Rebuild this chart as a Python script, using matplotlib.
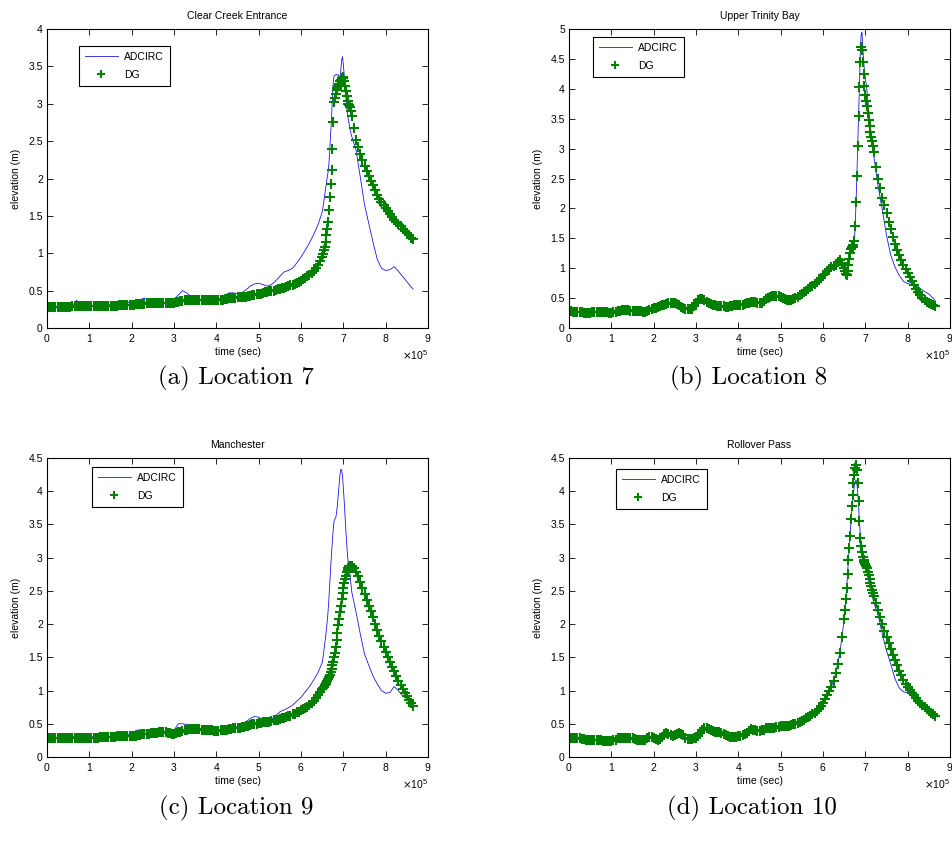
import matplotlib
matplotlib.use("Agg")
import matplotlib.pyplot as plt
from matplotlib.ticker import FuncFormatter, MultipleLocator
import numpy as np

plt.rcParams['font.family'] = ['Liberation Sans', 'DejaVu Sans']
plt.rcParams['font.size'] = 7.5

# sample times, in units of 1e5 s
t_early = [0.0, 0.1, 0.2, 0.3, 0.4, 0.5, 0.6, 0.7, 0.8, 0.9,
           1.0, 1.1, 1.2, 1.3, 1.4, 1.5, 1.6, 1.7, 1.8, 1.9,
           2.0, 2.1, 2.2, 2.3, 2.4, 2.5, 2.6, 2.7, 2.8, 2.9,
           3.0, 3.1, 3.2, 3.3, 3.4, 3.5, 3.6, 3.7, 3.8, 3.9,
           4.0, 4.1, 4.2, 4.3, 4.4, 4.5, 4.6, 4.7, 4.8, 4.9,
           5.0, 5.1, 5.2, 5.3, 5.4, 5.5, 5.6, 5.7, 5.8, 5.9,
           6.0, 6.1, 6.2, 6.3, 6.4]
t_peak = [6.50, 6.52, 6.54, 6.56, 6.58, 6.60, 6.62, 6.64, 6.66, 6.68,
          6.70, 6.72, 6.74, 6.76, 6.78, 6.80, 6.82, 6.84, 6.86, 6.88,
          6.90, 6.92, 6.94, 6.96, 6.98, 7.00, 7.02, 7.04, 7.06, 7.08,
          7.10, 7.12, 7.14, 7.16, 7.18, 7.20]
t_late = [7.3, 7.4, 7.5, 7.6, 7.7, 7.8, 7.9, 8.0, 8.1, 8.2, 8.3, 8.4, 8.5, 8.6, 8.65]
t_adcirc = t_early + t_peak + t_late

# DG output is denser
t_dg_early = [0.00, 0.05, 0.10, 0.15, 0.20, 0.25, 0.30, 0.35, 0.40, 0.45,
              0.50, 0.55, 0.60, 0.65, 0.70, 0.75, 0.80, 0.85, 0.90, 0.95,
              1.00, 1.05, 1.10, 1.15, 1.20, 1.25, 1.30, 1.35, 1.40, 1.45,
              1.50, 1.55, 1.60, 1.65, 1.70, 1.75, 1.80, 1.85, 1.90, 1.95,
              2.00, 2.05, 2.10, 2.15, 2.20, 2.25, 2.30, 2.35, 2.40, 2.45,
              2.50, 2.55, 2.60, 2.65, 2.70, 2.75, 2.80, 2.85, 2.90, 2.95,
              3.00, 3.05, 3.10, 3.15, 3.20, 3.25, 3.30, 3.35, 3.40, 3.45,
              3.50, 3.55, 3.60, 3.65, 3.70, 3.75, 3.80, 3.85, 3.90, 3.95,
              4.00, 4.05, 4.10, 4.15, 4.20, 4.25, 4.30, 4.35, 4.40, 4.45,
              4.50, 4.55, 4.60, 4.65, 4.70, 4.75, 4.80, 4.85, 4.90, 4.95,
              5.00, 5.05, 5.10, 5.15, 5.20, 5.25, 5.30, 5.35, 5.40, 5.45,
              5.50, 5.55, 5.60, 5.65, 5.70, 5.75, 5.80, 5.85, 5.90, 5.95,
              6.00, 6.05, 6.10, 6.15, 6.20, 6.25, 6.30, 6.35, 6.40, 6.45]
t_dg_late = [7.25, 7.30, 7.35, 7.40, 7.45, 7.50, 7.55, 7.60, 7.65, 7.70,
             7.75, 7.80, 7.85, 7.90, 7.95, 8.00, 8.05, 8.10, 8.15, 8.20,
             8.25, 8.30, 8.35, 8.40, 8.45, 8.50, 8.55, 8.60, 8.65]
t_dg = t_dg_early + t_peak + t_dg_late

# Location 7 - Clear Creek Entrance
adcirc7 = [0.28, 0.28, 0.28, 0.28, 0.28, 0.29, 0.30, 0.37, 0.31, 0.30,
           0.30, 0.30, 0.30, 0.30, 0.31, 0.31, 0.31, 0.32, 0.35, 0.34,
           0.34, 0.36, 0.38, 0.40, 0.39, 0.38, 0.37, 0.35, 0.34, 0.35,
           0.38, 0.44, 0.50, 0.47, 0.42, 0.38, 0.38, 0.38, 0.38, 0.38,
           0.38, 0.40, 0.44, 0.47, 0.47, 0.46, 0.47, 0.51, 0.56, 0.59,
           0.60, 0.58, 0.56, 0.58, 0.63, 0.69, 0.75, 0.77, 0.80, 0.87,
           0.95, 1.04, 1.14, 1.25, 1.38,
           1.55, 1.62, 1.70, 1.78, 1.86, 1.94, 2.02, 2.09, 2.20, 2.40,
           2.60, 2.80, 3.05, 3.28, 3.37, 3.38, 3.39, 3.39, 3.38, 3.39,
           3.36, 3.33, 3.45, 3.58, 3.63, 3.52, 3.38, 3.22, 3.08, 2.95,
           2.85, 2.78, 2.72, 2.66, 2.60, 2.56,
           2.38, 2.02, 1.65, 1.40, 1.15, 0.92, 0.80, 0.77, 0.78, 0.82, 0.76, 0.69, 0.62, 0.55, 0.52]
dg7 = [0.28, 0.28, 0.28, 0.28, 0.28, 0.28, 0.28, 0.28, 0.28, 0.28,
       0.28, 0.28, 0.29, 0.29, 0.29, 0.29, 0.29, 0.29, 0.29, 0.29,
       0.29, 0.29, 0.29, 0.29, 0.30, 0.30, 0.30, 0.30, 0.30, 0.30,
       0.30, 0.30, 0.30, 0.30, 0.31, 0.31, 0.31, 0.31, 0.31, 0.31,
       0.31, 0.31, 0.32, 0.32, 0.32, 0.32, 0.32, 0.33, 0.33, 0.33,
       0.33, 0.33, 0.33, 0.34, 0.34, 0.34, 0.34, 0.34, 0.34, 0.34,
       0.34, 0.35, 0.35, 0.36, 0.36, 0.37, 0.37, 0.37, 0.37, 0.38,
       0.38, 0.38, 0.38, 0.38, 0.38, 0.38, 0.38, 0.38, 0.38, 0.37,
       0.37, 0.37, 0.38, 0.38, 0.39, 0.39, 0.40, 0.40, 0.40, 0.40,
       0.41, 0.41, 0.41, 0.42, 0.42, 0.43, 0.43, 0.44, 0.44, 0.45,
       0.46, 0.46, 0.47, 0.48, 0.48, 0.49, 0.50, 0.50, 0.51, 0.52,
       0.52, 0.53, 0.54, 0.55, 0.56, 0.57, 0.58, 0.59, 0.60, 0.62,
       0.63, 0.65, 0.67, 0.69, 0.71, 0.74, 0.76, 0.80, 0.84, 0.89,
       0.95, 0.99, 1.04, 1.08, 1.15, 1.24, 1.33, 1.42, 1.58, 1.75,
       1.93, 2.11, 2.40, 2.75, 3.02, 3.08, 3.13, 3.18, 3.21, 3.24,
       3.27, 3.30, 3.32, 3.34, 3.36, 3.35, 3.30, 3.24, 3.17, 3.10,
       3.04, 3.00, 2.98, 2.95, 2.90, 2.84,
       2.68, 2.52, 2.42, 2.33, 2.25, 2.17, 2.10, 2.04, 1.97, 1.91,
       1.84, 1.78, 1.73, 1.68, 1.64, 1.60, 1.56, 1.52, 1.48, 1.45,
       1.42, 1.39, 1.36, 1.33, 1.30, 1.27, 1.24, 1.21, 1.19]

# Location 8 - Upper Trinity Bay
adcirc8 = [0.28, 0.27, 0.26, 0.26, 0.25, 0.25, 0.26, 0.27, 0.26, 0.26,
           0.25, 0.27, 0.29, 0.30, 0.30, 0.29, 0.29, 0.28, 0.26, 0.30,
           0.33, 0.35, 0.38, 0.40, 0.41, 0.41, 0.38, 0.33, 0.31, 0.32,
           0.42, 0.48, 0.46, 0.42, 0.39, 0.37, 0.36, 0.35, 0.36, 0.38,
           0.38, 0.39, 0.41, 0.43, 0.43, 0.41, 0.45, 0.50, 0.53, 0.54,
           0.52, 0.48, 0.46, 0.48, 0.52, 0.57, 0.62, 0.68, 0.74, 0.80,
           0.88, 0.95, 1.02, 1.06, 1.13,
           1.00, 0.95, 0.90, 0.89, 0.95, 1.05, 1.15, 1.25, 1.32, 1.35,
           1.36, 1.38, 1.45, 1.70, 2.10, 2.55, 3.05, 3.55, 4.03, 4.60,
           4.90, 4.95, 4.70, 4.45, 4.30, 4.18, 4.08, 3.95, 3.80, 3.65,
           3.50, 3.35, 3.22, 3.10, 2.98, 2.88,
           2.38, 1.98, 1.55, 1.22, 1.02, 0.88, 0.78, 0.74, 0.77, 0.72, 0.66, 0.61, 0.57, 0.50, 0.46]
dg8 = [0.28, 0.28, 0.27, 0.27, 0.26, 0.26, 0.26, 0.25, 0.25, 0.25,
       0.25, 0.26, 0.26, 0.27, 0.27, 0.27, 0.26, 0.26, 0.26, 0.25,
       0.25, 0.26, 0.27, 0.28, 0.29, 0.30, 0.30, 0.30, 0.30, 0.29,
       0.29, 0.29, 0.29, 0.28, 0.28, 0.27, 0.26, 0.28, 0.30, 0.32,
       0.33, 0.34, 0.35, 0.37, 0.38, 0.39, 0.40, 0.41, 0.41, 0.41,
       0.41, 0.40, 0.38, 0.35, 0.33, 0.32, 0.31, 0.31, 0.32, 0.36,
       0.42, 0.46, 0.48, 0.48, 0.46, 0.44, 0.42, 0.40, 0.39, 0.38,
       0.37, 0.37, 0.36, 0.36, 0.35, 0.35, 0.36, 0.37, 0.38, 0.38,
       0.38, 0.39, 0.39, 0.40, 0.41, 0.42, 0.43, 0.43, 0.43, 0.42,
       0.41, 0.42, 0.45, 0.48, 0.50, 0.52, 0.53, 0.54, 0.54, 0.53,
       0.52, 0.50, 0.48, 0.47, 0.46, 0.47, 0.48, 0.50, 0.52, 0.55,
       0.57, 0.60, 0.62, 0.65, 0.68, 0.71, 0.74, 0.77, 0.80, 0.84,
       0.88, 0.91, 0.95, 0.98, 1.02, 1.04, 1.06, 1.10, 1.13, 1.08,
       1.00, 0.95, 0.90, 0.89, 0.95, 1.05, 1.15, 1.25, 1.32, 1.35,
       1.36, 1.38, 1.45, 1.70, 2.10, 2.55, 3.05, 3.55, 4.03, 4.45,
       4.70, 4.65, 4.45, 4.25, 4.05, 3.90, 3.80, 3.72, 3.60, 3.48,
       3.38, 3.28, 3.20, 3.12, 3.05, 2.95,
       2.70, 2.50, 2.34, 2.18, 2.05, 1.92, 1.78, 1.65, 1.52, 1.40,
       1.31, 1.22, 1.13, 1.05, 0.98, 0.92, 0.85, 0.78, 0.72, 0.66,
       0.60, 0.55, 0.50, 0.47, 0.44, 0.42, 0.40, 0.39, 0.37]

# Location 9 - Manchester
adcirc9 = [0.28, 0.28, 0.28, 0.28, 0.28, 0.28, 0.30, 0.35, 0.30, 0.29,
           0.29, 0.31, 0.33, 0.31, 0.30, 0.30, 0.31, 0.32, 0.33, 0.34,
           0.35, 0.40, 0.41, 0.40, 0.39, 0.38, 0.37, 0.36, 0.36, 0.37,
           0.40, 0.50, 0.50, 0.49, 0.45, 0.42, 0.40, 0.39, 0.38, 0.38,
           0.39, 0.42, 0.46, 0.48, 0.46, 0.45, 0.48, 0.53, 0.58, 0.61,
           0.60, 0.56, 0.55, 0.57, 0.62, 0.68, 0.71, 0.74, 0.78, 0.84,
           0.90, 0.98, 1.06, 1.16, 1.27,
           1.42, 1.50, 1.60, 1.70, 1.80, 1.92, 2.05, 2.20, 2.40, 2.62,
           2.85, 3.05, 3.25, 3.42, 3.55, 3.58, 3.60, 3.68, 3.80, 3.95,
           4.10, 4.25, 4.33, 4.32, 4.22, 4.05, 3.85, 3.62, 3.40, 3.20,
           3.02, 2.90, 2.82, 2.72, 2.60, 2.48,
           2.18, 1.85, 1.55, 1.38, 1.22, 1.10, 1.00, 0.96, 0.97, 1.06, 1.00, 0.92, 0.88, 0.83, 0.80]
dg9 = [0.28, 0.28, 0.28, 0.28, 0.28, 0.28, 0.28, 0.28, 0.28, 0.28,
       0.28, 0.28, 0.28, 0.28, 0.28, 0.28, 0.29, 0.29, 0.29, 0.29,
       0.29, 0.29, 0.29, 0.29, 0.29, 0.30, 0.30, 0.30, 0.30, 0.30,
       0.30, 0.30, 0.30, 0.31, 0.31, 0.31, 0.31, 0.31, 0.31, 0.31,
       0.31, 0.32, 0.32, 0.33, 0.33, 0.34, 0.34, 0.35, 0.35, 0.36,
       0.36, 0.36, 0.36, 0.37, 0.37, 0.37, 0.37, 0.36, 0.36, 0.35,
       0.35, 0.36, 0.37, 0.38, 0.39, 0.40, 0.41, 0.42, 0.42, 0.42,
       0.42, 0.42, 0.42, 0.41, 0.41, 0.41, 0.41, 0.40, 0.40, 0.39,
       0.39, 0.39, 0.40, 0.40, 0.41, 0.41, 0.42, 0.42, 0.43, 0.43,
       0.44, 0.44, 0.45, 0.45, 0.46, 0.47, 0.48, 0.49, 0.50, 0.50,
       0.51, 0.51, 0.52, 0.52, 0.53, 0.53, 0.54, 0.55, 0.56, 0.56,
       0.57, 0.58, 0.59, 0.60, 0.61, 0.62, 0.64, 0.65, 0.67, 0.68,
       0.70, 0.72, 0.74, 0.76, 0.79, 0.82, 0.85, 0.89, 0.93, 0.98,
       1.02, 1.04, 1.06, 1.08, 1.10, 1.12, 1.14, 1.17, 1.20, 1.24,
       1.28, 1.33, 1.38, 1.43, 1.50, 1.57, 1.66, 1.76, 1.87, 1.98,
       2.08, 2.18, 2.28, 2.38, 2.47, 2.55, 2.62, 2.68, 2.73, 2.78,
       2.82, 2.85, 2.87, 2.88, 2.88, 2.87,
       2.84, 2.79, 2.72, 2.63, 2.55, 2.46, 2.37, 2.28, 2.19, 2.10,
       2.00, 1.91, 1.82, 1.74, 1.66, 1.58, 1.50, 1.43, 1.36, 1.29,
       1.22, 1.15, 1.09, 1.03, 0.97, 0.92, 0.86, 0.81, 0.77]

# Location 10 - Rollover Pass
adcirc10 = [0.28, 0.28, 0.28, 0.27, 0.26, 0.25, 0.26, 0.25, 0.24, 0.24,
            0.24, 0.26, 0.29, 0.29, 0.29, 0.28, 0.26, 0.25, 0.25, 0.30,
            0.29, 0.26, 0.30, 0.36, 0.33, 0.33, 0.36, 0.33, 0.27, 0.27,
            0.29, 0.36, 0.44, 0.42, 0.39, 0.37, 0.36, 0.33, 0.30, 0.30,
            0.31, 0.33, 0.36, 0.42, 0.40, 0.39, 0.41, 0.44, 0.44, 0.45,
            0.46, 0.46, 0.47, 0.49, 0.51, 0.54, 0.59, 0.62, 0.66, 0.73,
            0.82, 0.93, 1.06, 1.26, 1.57,
            2.07, 2.22, 2.38, 2.55, 2.75, 2.97, 3.15, 3.33, 3.55, 3.72,
            3.85, 3.98, 4.08, 4.14, 4.17, 4.12, 3.98, 3.80, 3.55, 3.35,
            3.20, 3.10, 3.02, 2.96, 2.92, 2.88, 2.83, 2.77, 2.71, 2.65,
            2.59, 2.54, 2.49, 2.44, 2.38, 2.32,
            2.15, 1.85, 1.60, 1.40, 1.18, 1.04, 0.98, 0.97, 0.96, 0.90, 0.82, 0.76, 0.71, 0.67, 0.65]
dg10 = [0.28, 0.28, 0.28, 0.28, 0.28, 0.28, 0.27, 0.27, 0.26, 0.25,
        0.25, 0.25, 0.26, 0.26, 0.25, 0.25, 0.24, 0.24, 0.24, 0.24,
        0.24, 0.25, 0.26, 0.28, 0.29, 0.29, 0.29, 0.29, 0.29, 0.29,
        0.28, 0.27, 0.26, 0.25, 0.25, 0.25, 0.25, 0.28, 0.30, 0.30,
        0.29, 0.27, 0.26, 0.27, 0.30, 0.34, 0.36, 0.35, 0.33, 0.32,
        0.33, 0.35, 0.36, 0.35, 0.33, 0.29, 0.27, 0.27, 0.27, 0.28,
        0.29, 0.32, 0.36, 0.41, 0.44, 0.43, 0.42, 0.40, 0.39, 0.38,
        0.37, 0.37, 0.36, 0.35, 0.33, 0.31, 0.30, 0.30, 0.30, 0.30,
        0.31, 0.32, 0.33, 0.34, 0.36, 0.39, 0.42, 0.41, 0.40, 0.39,
        0.39, 0.40, 0.41, 0.43, 0.44, 0.44, 0.44, 0.44, 0.45, 0.45,
        0.46, 0.46, 0.46, 0.46, 0.47, 0.48, 0.49, 0.50, 0.51, 0.52,
        0.54, 0.56, 0.59, 0.60, 0.62, 0.64, 0.66, 0.69, 0.73, 0.77,
        0.82, 0.87, 0.93, 0.99, 1.06, 1.15, 1.26, 1.40, 1.57, 1.80,
        2.07, 2.22, 2.38, 2.55, 2.75, 2.97, 3.15, 3.33, 3.58, 3.78,
        3.95, 4.12, 4.25, 4.35, 4.40, 4.32, 4.12, 3.85, 3.55, 3.30,
        3.18, 3.08, 3.01, 2.97, 2.94, 2.91, 2.88, 2.84, 2.79, 2.74,
        2.68, 2.62, 2.57, 2.52, 2.47, 2.42,
        2.32, 2.22, 2.11, 2.00, 1.90, 1.80, 1.71, 1.62, 1.54, 1.46,
        1.38, 1.30, 1.23, 1.16, 1.10, 1.05, 1.01, 0.97, 0.93, 0.89,
        0.85, 0.81, 0.78, 0.75, 0.72, 0.69, 0.66, 0.64, 0.62]

titles = ['Clear Creek Entrance', 'Upper Trinity Bay', 'Manchester', 'Rollover Pass']
captions = ['(a) Location 7', '(b) Location 8', '(c) Location 9', '(d) Location 10']
adcirc = [adcirc7, adcirc8, adcirc9, adcirc10]
dg = [dg7, dg8, dg9, dg10]
ymax = [4, 5, 4.5, 4.5]

# layout (figure fractions)
positions = [[0.0494, 0.6132, 0.4002, 0.3526], [0.5977, 0.6132, 0.4002, 0.3526],
             [0.0494, 0.1073, 0.4002, 0.3526], [0.5977, 0.1073, 0.4002, 0.3526]]
legend_anchor = [(0.084, 0.943), (0.063, 0.973), (0.118, 0.970), (0.123, 0.963)]
caption_xy = [(0.248, 0.554), (0.786, 0.554), (0.248, 0.047), (0.790, 0.047)]

fig = plt.figure(figsize=(9.52, 8.48), dpi=100)
ta = np.array(t_adcirc) * 1e5
td = np.array(t_dg) * 1e5

for i in range(4):
    ax = fig.add_axes(positions[i])
    ax.plot(ta, adcirc[i], color='#1a1ae6', lw=0.6, label='ADCIRC')
    ax.plot(td, dg[i], '+', color='#008000', ms=6.5, mew=1.5, label='DG')
    ax.set_xlim(0, 9e5)
    ax.set_ylim(0, ymax[i])
    ax.xaxis.set_major_locator(MultipleLocator(1e5))
    ax.yaxis.set_major_locator(MultipleLocator(0.5))
    ax.ticklabel_format(axis='x', style='sci', scilimits=(0, 0), useMathText=True)
    ax.yaxis.set_major_formatter(FuncFormatter(lambda v, p: f'{v:g}'))
    ax.xaxis.get_offset_text().set_fontsize(7.5)
    ax.tick_params(direction='in', top=True, right=True, length=4, width=0.6,
                   labelsize=7.5, pad=3)
    for s in ax.spines.values():
        s.set_linewidth(0.8)
    ax.set_title(titles[i], fontsize=7.5, pad=7)
    ax.set_xlabel('time (sec)', labelpad=2)
    ax.set_ylabel('elevation (m)', labelpad=5)
    leg = ax.legend(loc='upper left', bbox_to_anchor=legend_anchor[i], borderaxespad=0,
                    fancybox=False, edgecolor='black', framealpha=1, numpoints=1,
                    handlelength=3.2, handletextpad=0.6, borderpad=0.55,
                    labelspacing=0.8, fontsize=7.5, markerscale=0.8)
    leg.get_frame().set_linewidth(0.8)
    fig.text(caption_xy[i][0], caption_xy[i][1], captions[i], family='cmr10',
             fontsize=18, ha='center', va='center')

fig.savefig('out.png', dpi=100)
